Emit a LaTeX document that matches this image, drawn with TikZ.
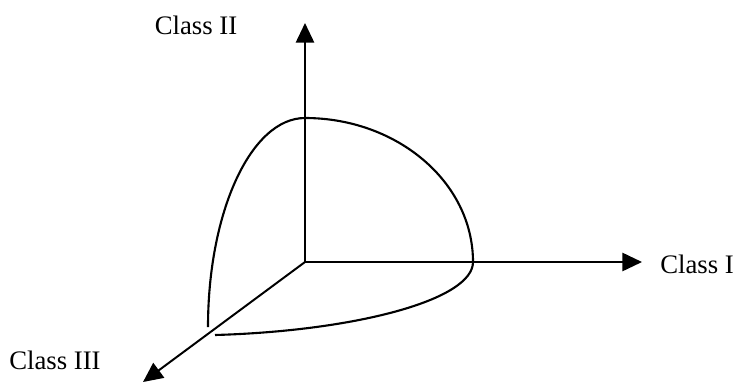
\documentclass[tikz,border=0pt]{standalone}
\usepackage{fontspec}
\setmainfont{Liberation Serif}
\usetikzlibrary{arrows.meta, positioning}

\begin{document}
\begin{tikzpicture}[x=0.025cm, y=-0.025cm,
    axis/.style={line width=1.4pt, -{Triangle[length=14pt, width=13pt]}},
    boundary/.style={line width=1.5pt},
    classlabel/.style={font=\fontsize{19}{22}\selectfont, inner sep=0pt}]
    \useasboundingbox (0,0) rectangle (736,383);
    % axes
    \coordinate (origin) at (305,262);
    \coordinate (tipII) at (305,23);
    \coordinate (tipI) at (642,262);
    \coordinate (tipIII) at (143,382);
    \draw[axis] (origin) -- (tipII);
    \draw[axis] (origin) -- (tipI);
    \draw[axis] (origin) -- (tipIII);
    % region boundary
    \coordinate (peak) at (305,118);
    \coordinate (cutI) at (473,262);
    \coordinate (endIII) at (215,335);
    \coordinate (endleft) at (208,327);
    \draw[boundary] (peak) .. controls (397,118) and (473,182) .. (cutI)
        .. controls (473,300) and (355,331) .. (endIII);
    \draw[boundary] (peak) .. controls (251,118) and (208,212) .. (endleft);
    % labels
    \node[classlabel, anchor=west] (labelI) at (660,264) {Class I};
    \node[classlabel] (labelII) at (196,25) {Class II};
    \node[classlabel] (labelIII) at (55,360) {Class III};
\end{tikzpicture}
\end{document}
